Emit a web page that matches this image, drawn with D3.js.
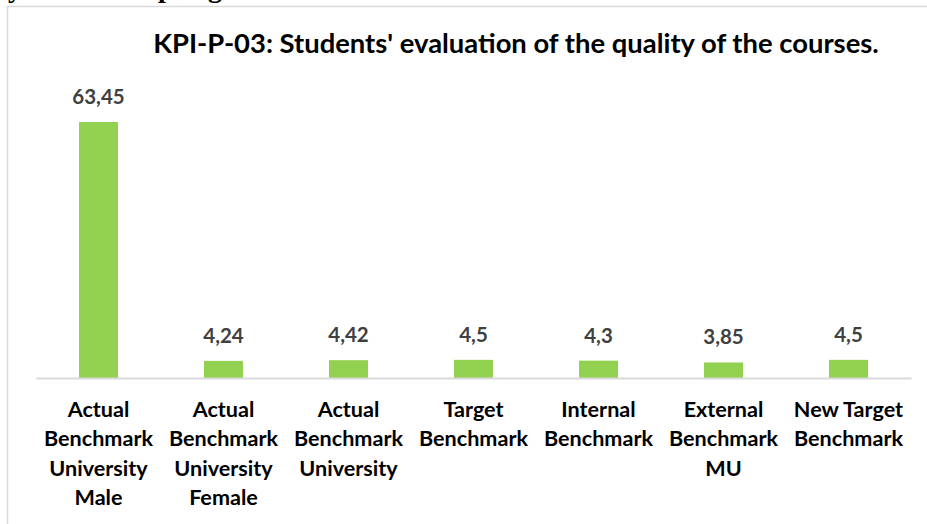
<!DOCTYPE html>
<html>
<head>
<meta charset="utf-8">
<script src="https://cdn.jsdelivr.net/npm/d3@7"></script>
<style>
  html, body { margin: 0; padding: 0; background: #fff; }
  svg { display: block; }
</style>
</head>
<body>
<svg id="chart" width="927" height="524"></svg>
<script>
const categories = [
  ["Actual", "Benchmark", "University", "Male"],
  ["Actual", "Benchmark", "University", "Female"],
  ["Actual", "Benchmark", "University"],
  ["Target", "Benchmark"],
  ["Internal", "Benchmark"],
  ["External", "Benchmark", "MU"],
  ["New Target", "Benchmark"]
];
const values = [63.45, 4.24, 4.42, 4.5, 4.3, 3.85, 4.5];
const valueLabels = ["63,45", "4,24", "4,42", "4,5", "4,3", "3,85", "4,5"];
const titleText = "KPI-P-03: Students' evaluation of the quality of the courses.";

const svg = d3.select("#chart");
const W = 927, H = 524;
const font = "Lato, 'Open Sans', sans-serif";

// cropped document text above the chart frame
[["y", 8], ["p", 158], ["g", 208]].forEach(([t, px]) => {
  svg.append("text").attr("x", px).attr("y", -3)
    .attr("font-family", "'Liberation Serif', serif").attr("font-weight", "bold")
    .attr("font-size", 28).attr("fill", "#000")
    .text(t);
});

// chart frame
svg.append("path")
  .attr("d", `M7.5,${H} V6.5 H${W}`)
  .attr("fill", "none").attr("stroke", "#d9d9d9").attr("stroke-width", 1.5);

const idx = categories.map((d, i) => i);
const x = d3.scaleBand().domain(idx).range([36, 911]).paddingInner(0.688).paddingOuter(0.344);
const y = d3.scaleLinear().domain([0, 70]).range([378, 95.6]);

// title
svg.append("text")
  .attr("x", 516).attr("y", 53)
  .attr("text-anchor", "middle")
  .attr("font-family", font).attr("font-weight", "bold")
  .attr("font-size", 27.4).attr("fill", "#000")
  .text(titleText);

// bars
svg.append("g").selectAll("rect").data(values).join("rect")
  .attr("x", (d, i) => x(i))
  .attr("width", x.bandwidth())
  .attr("y", d => y(d))
  .attr("height", d => y(0) - y(d))
  .attr("fill", "#92D050");

// axis line
const xAxis = d3.axisBottom(x).tickSize(0).tickFormat("");
const gx = svg.append("g").attr("transform", `translate(0,${y(0)})`).call(xAxis);
gx.select(".domain").attr("stroke", "#d9d9d9").attr("stroke-width", 2);

// value labels
svg.append("g").selectAll("text").data(values).join("text")
  .attr("x", (d, i) => x(i) + x.bandwidth() / 2)
  .attr("y", d => y(d) - 18)
  .attr("text-anchor", "middle")
  .attr("font-family", font).attr("font-weight", "bold")
  .attr("font-size", 20.5).attr("fill", "#404040")
  .text((d, i) => valueLabels[i]);

// category labels
const cl = svg.append("g").selectAll("text").data(categories).join("text")
  .attr("text-anchor", "middle")
  .attr("font-family", font).attr("font-weight", "bold")
  .attr("font-size", 21.6).attr("fill", "#000");
cl.each(function(lines, i) {
  d3.select(this).selectAll("tspan").data(lines).join("tspan")
    .attr("x", x(i) + x.bandwidth() / 2)
    .attr("y", (l, j) => 417 + j * 29.3)
    .text(l => l);
});
</script>
</body>
</html>
